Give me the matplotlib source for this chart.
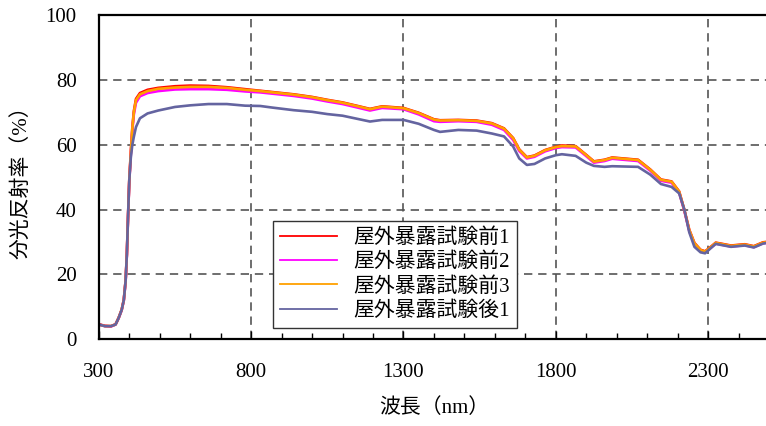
import numpy as np
import matplotlib
matplotlib.use("Agg")
import matplotlib.pyplot as plt
from matplotlib.ticker import MultipleLocator

plt.rcParams['font.family'] = ['Liberation Serif', 'Noto Sans CJK JP']

# wavelength (nm)
wl = [300, 320, 340, 355, 365, 375, 382, 388, 392, 396, 400, 405, 410, 415, 422,
      435, 460, 495, 550, 600, 660, 720, 780, 830, 870, 940, 1000, 1050, 1100,
      1150, 1190, 1230, 1300, 1350, 1400, 1420, 1480, 1540, 1590, 1630, 1660,
      1680, 1705, 1730, 1765, 1800, 1820, 1865, 1900, 1925, 1960, 1985, 2070,
      2110, 2145, 2180, 2205, 2222, 2238, 2255, 2275, 2290, 2310, 2325, 2375,
      2420, 2450, 2480, 2500]

# spectral reflectance (%)
before1 = [4.6, 4.1, 4.0, 4.6, 6.6, 9.1, 12.2, 18.2, 26.2, 38.2, 49.2, 57.8, 65.3, 70.4, 74.2,
           76.0, 77.0, 77.6, 78.1, 78.3, 78.2, 77.8, 77.2, 76.7, 76.3, 75.6, 74.8, 73.9, 73.1,
           72.0, 71.1, 71.9, 71.4, 69.9, 67.9, 67.6, 67.7, 67.5, 66.7, 65.1, 62.1,
           58.6, 56.2, 56.7, 58.4, 59.4, 59.8, 59.6, 56.9, 54.9, 55.4, 56.1, 55.4,
           52.4, 49.3, 48.7, 45.6, 39.9, 33.8, 29.7, 27.6, 27.1, 28.6, 29.8, 28.9,
           29.3, 28.7, 29.9, 30.1]
before2 = [4.5, 4.0, 3.9, 4.5, 6.4, 8.9, 11.9, 17.8, 25.8, 37.8, 48.6, 57.0, 64.4, 69.4, 73.0,
           75.0, 76.0, 76.6, 77.1, 77.2, 77.2, 77.0, 76.5, 76.2, 75.8, 75.1, 74.3, 73.4, 72.6,
           71.5, 70.6, 71.4, 71.0, 69.4, 67.3, 67.1, 67.3, 67.1, 66.2, 64.6, 61.5,
           58.1, 55.8, 56.3, 58.0, 59.0, 59.3, 59.2, 56.5, 54.5, 55.0, 55.7, 55.0,
           52.0, 48.9, 48.3, 45.2, 39.5, 33.4, 29.4, 27.3, 26.8, 28.3, 29.5, 28.6,
           29.0, 28.4, 29.6, 29.8]
before3 = [4.5, 4.0, 4.0, 4.5, 6.5, 9.0, 12.0, 18.0, 26.0, 38.0, 49.0, 57.5, 65.0, 70.0, 73.8,
           75.6, 76.6, 77.3, 77.7, 77.9, 77.9, 77.6, 77.0, 76.6, 76.2, 75.5, 74.7, 73.8, 73.0,
           71.9, 71.0, 71.8, 71.3, 69.8, 67.8, 67.5, 67.6, 67.4, 66.6, 65.0, 62.0,
           58.5, 56.1, 56.6, 58.3, 59.3, 59.6, 59.5, 56.8, 54.8, 55.3, 56.0, 55.3,
           52.3, 49.2, 48.6, 45.5, 39.8, 33.7, 29.6, 27.5, 27.0, 28.5, 29.7, 28.8,
           29.2, 28.6, 29.8, 30.0]
after1 = [4.5, 4.0, 4.0, 4.5, 6.5, 9.0, 12.0, 18.0, 26.0, 38.0, 49.0, 56.0, 60.0, 62.5, 65.5,
          68.2, 69.7, 70.6, 71.7, 72.2, 72.6, 72.6, 72.1, 72.0, 71.5, 70.7, 70.2, 69.5, 69.0,
          68.0, 67.2, 67.7, 67.7, 66.5, 64.6, 64.0, 64.6, 64.4, 63.5, 62.6, 59.5,
          55.8, 53.8, 54.1, 55.8, 56.8, 57.1, 56.6, 54.5, 53.5, 53.2, 53.4, 53.2,
          50.8, 47.9, 47.0, 45.0, 40.0, 33.0, 28.5, 26.8, 26.5, 28.2, 29.4, 28.5,
          28.9, 28.3, 29.5, 29.8]

labels = ['屋外暴露試験前1', '屋外暴露試験前2', '屋外暴露試験前3', '屋外暴露試験後1']
colors = ['#FF0000', '#FF00FF', '#FFA000', '#6464A0']
series = [before1, before2, before3, after1]
xticks = [300, 800, 1300, 1800, 2300]
yticks = [0, 20, 40, 60, 80, 100]

fig = plt.figure(figsize=(7.66, 4.26), dpi=100)
ax = fig.add_axes([0.129, 0.204, 0.875, 0.760])

for ys, c, lab in zip(series, colors, labels):
    ax.plot(wl, ys, color=c, lw=1.9, label=lab)

ax.set_xlim(300, 2500)
ax.set_ylim(0, 100)
ax.set_xticks(xticks)
ax.set_yticks(yticks)
ax.xaxis.set_minor_locator(MultipleLocator(100))
ax.grid(True, which='major', color='#555555', lw=1.2, linestyle=(0, (5, 3.5)))
ax.tick_params(axis='x', which='both', direction='in', labelsize=15, pad=17)
ax.tick_params(axis='x', which='major', length=6, width=1)
ax.tick_params(axis='x', which='minor', length=4, width=1)
ax.tick_params(axis='y', direction='in', length=0, labelsize=15, pad=16)
for s in ax.spines.values():
    s.set_linewidth(1.6)

ax.set_xlabel('波長（nm）', fontsize=15, labelpad=12)
ax.set_ylabel('分光反射率（%）', fontsize=15, labelpad=10)

leg = ax.legend(loc='lower left', bbox_to_anchor=(0.26, 0.034), borderaxespad=0,
                fontsize=15, fancybox=False, framealpha=1, edgecolor='#333333',
                handlelength=2.7, labelspacing=0.22, borderpad=0.35, handletextpad=0.8)
leg.get_frame().set_linewidth(1.0)
for h in leg.get_lines():
    h.set_linewidth(1.3)

fig.savefig('out.png', dpi=100)
